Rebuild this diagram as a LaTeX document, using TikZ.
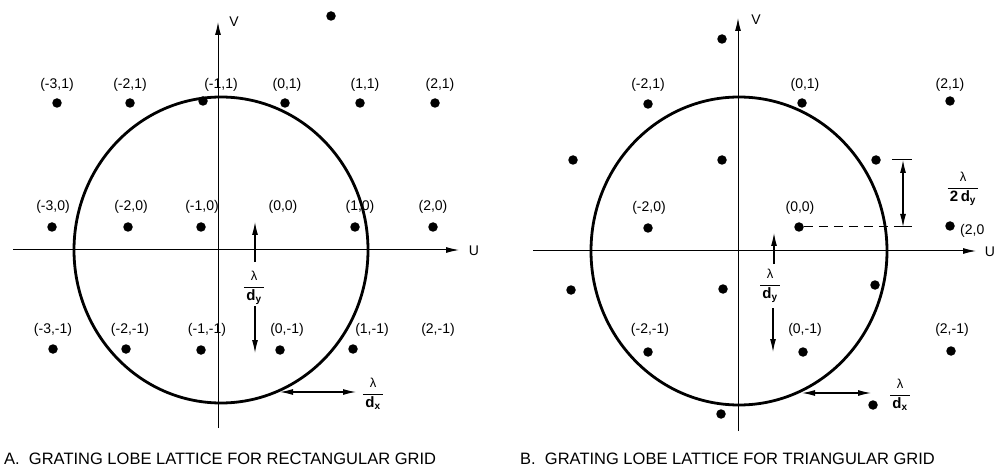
\documentclass[tikz,border=0pt]{standalone}
\usepackage{fontspec}
\setmainfont{Liberation Sans}
\setsansfont{Liberation Sans}
\usetikzlibrary{arrows.meta}
\newcommand{\subb}[1]{\mbox{\fontsize{10}{10}\selectfont\bfseries #1}}
\newcommand{\lamfrac}[1]{$\displaystyle\frac{\mbox{\fontsize{13}{13}\selectfont λ}}{\,\mbox{#1}\,}$}
\begin{document}
\begin{tikzpicture}[x=1pt,y=-1pt,
  dotn/.style={circle,fill=black,inner sep=0pt,minimum size=9.5pt},
  lbl/.style={inner sep=0pt,font=\fontsize{14}{14}\selectfont},
  axlbl/.style={inner sep=0pt,font=\fontsize{14}{14}\selectfont},
  captxt/.style={inner sep=0pt,anchor=west,font=\fontsize{16.5}{17}\selectfont},
  frac/.style={inner sep=0pt,font=\fontsize{15}{15}\selectfont},
  axis/.style={line width=1pt,-{Latex[length=13pt,width=6pt]}},
  ring/.style={line width=2.8pt},
  dim/.style={line width=1.1pt,-{Latex[length=13pt,width=6pt]}},
  dimboth/.style={line width=1.1pt,{Latex[length=13pt,width=6pt]}-{Latex[length=13pt,width=6pt]}},
  tick/.style={line width=1pt},
  guide/.style={line width=1pt,dash pattern=on 9pt off 6pt}]
\fill[white] (0,0) rectangle (995,470);
\useasboundingbox (0,0) rectangle (995,470);

% ================= Panel A =================
\coordinate (AvB) at (218,428);
\coordinate (AvT) at (218,22);
\coordinate (AuL) at (13,250);
\coordinate (AuR) at (459,250);
\draw[axis] (AvB) -- (AvT);
\draw[axis] (AuL) -- (AuR);
\node[axlbl] (AV) at (234,22) {V};
\node[axlbl] (AU) at (474,251) {U};
\draw[ring] (221,250) ellipse [x radius=147, y radius=153];

% dots
\foreach \n/\x/\y in {a1/57/103,a2/130/103,a3/203/101,a4/285/103,a5/360/103,a6/435/103,
  b1/52/227,b2/128/227,b3/201/227,b5/355/227,b6/433/227,
  c1/53/349,c2/126/349,c3/201/350,c4/280/350,c5/353/349,s1/331/16}
  \node[dotn] (A\n) at (\x,\y) {};

% labels
\node[lbl] (LA1) at (57,85) {(-3,1)};
\node[lbl] (LA2) at (130,85) {(-2,1)};
\node[lbl] (LA3) at (221,85) {(-1,1)};
\node[lbl] (LA4) at (287,85) {(0,1)};
\node[lbl] (LA5) at (365,85) {(1,1)};
\node[lbl] (LA6) at (440,85) {(2,1)};
\node[lbl] (LB1) at (53,207) {(-3,0)};
\node[lbl] (LB2) at (131,207) {(-2,0)};
\node[lbl] (LB3) at (202,207) {(-1,0)};
\node[lbl] (LB4) at (283,207) {(0,0)};
\node[lbl] (LB5) at (360,207) {(1,0)};
\node[lbl] (LB6) at (433,207) {(2,0)};
\node[lbl] (LC1) at (53,330) {(-3,-1)};
\node[lbl] (LC2) at (130,330) {(-2,-1)};
\node[lbl] (LC3) at (207,330) {(-1,-1)};
\node[lbl] (LC4) at (287,330) {(0,-1)};
\node[lbl] (LC5) at (372,330) {(1,-1)};
\node[lbl] (LC6) at (438,330) {(2,-1)};

% lambda/dy
\coordinate (Ady0) at (255,262);
\coordinate (Ady1) at (255,222);
\coordinate (Ady2) at (255,306);
\coordinate (Ady3) at (255,353);
\draw[dim] (Ady0) -- (Ady1);
\draw[dim] (Ady2) -- (Ady3);
\node[frac] (AFy) at (254,288) {\lamfrac{\bfseries d$_{\subb{y}}$}};
% lambda/dx
\coordinate (Adx0) at (280,392);
\coordinate (Adx1) at (356,392);
\draw[dimboth] (Adx0) -- (Adx1);
\node[frac] (AFx) at (373,394) {\lamfrac{\bfseries d$_{\subb{x}}$}};

\node[captxt] (CapA) at (4,459) {A.\ \ GRATING LOBE LATTICE FOR RECTANGULAR GRID};

% ================= Panel B =================
\coordinate (BvB) at (738,431);
\coordinate (BvT) at (738,18);
\coordinate (BuL) at (533,251);
\coordinate (BuR) at (976,251);
\draw[axis] (BvB) -- (BvT);
\draw[axis] (BuL) -- (BuR);
\node[axlbl] (BV) at (756,20) {V};
\node[axlbl] (BU) at (990,252) {U};
\draw[ring] (739,251) ellipse [x radius=148, y radius=154];

\foreach \n/\x/\y in {t0/722/39,t1/648/104,t2/802/103,t3/950/101,
  m1/573/160,m2/722/160,m3/876/160,
  z1/648/228,z2/799/227,z3/950/226,
  n1/571/290,n2/723/289,n3/875/285,
  q1/648/352,q2/803/352,q3/951/351,
  r1/721/414,r2/873/405}
  \node[dotn] (B\n) at (\x,\y) {};

\node[lbl] (LT1) at (648,85) {(-2,1)};
\node[lbl] (LT2) at (805,85) {(0,1)};
\node[lbl] (LT3) at (950,85) {(2,1)};
\node[lbl] (LZ1) at (649,208) {(-2,0)};
\node[lbl] (LZ2) at (800,208) {(0,0)};
\node[lbl,anchor=west] (LZ3) at (960,231) {(2,0};
\node[lbl] (LQ1) at (650,330) {(-2,-1)};
\node[lbl] (LQ2) at (805,330) {(0,-1)};
\node[lbl] (LQ3) at (952,330) {(2,-1)};

% dashed guide and lambda/2dy
\coordinate (Bt1a) at (892,160);
\coordinate (Bt1b) at (912,160);
\coordinate (Bt2a) at (896,227);
\coordinate (Bt2b) at (912,227);
\draw[tick] (Bt1a) -- (Bt1b);
\draw[tick] (Bt2a) -- (Bt2b);
\draw[guide] (Bz2) -- (Bt2b);
\coordinate (B2y0) at (903,160);
\coordinate (B2y1) at (903,227);
\draw[dimboth] (B2y0) -- (B2y1);
\node[frac] (BF2) at (963,189) {\lamfrac{\bfseries 2\,d$_{\subb{y}}$}};

% lambda/dy
\coordinate (Bdy0) at (774,264);
\coordinate (Bdy1) at (774,233);
\coordinate (Bdy2) at (773,308);
\coordinate (Bdy3) at (773,352);
\draw[dim] (Bdy0) -- (Bdy1);
\draw[dim] (Bdy2) -- (Bdy3);
\node[frac] (BFy) at (770,286) {\lamfrac{\bfseries d$_{\subb{y}}$}};
% lambda/dx
\coordinate (Bdx0) at (802,393);
\coordinate (Bdx1) at (871,393);
\draw[dimboth] (Bdx0) -- (Bdx1);
\node[frac] (BFx) at (900,395) {\lamfrac{\bfseries d$_{\subb{x}}$}};

\node[captxt] (CapB) at (520,459) {B.\ \ GRATING LOBE LATTICE FOR TRIANGULAR GRID};
\end{tikzpicture}
\end{document}
